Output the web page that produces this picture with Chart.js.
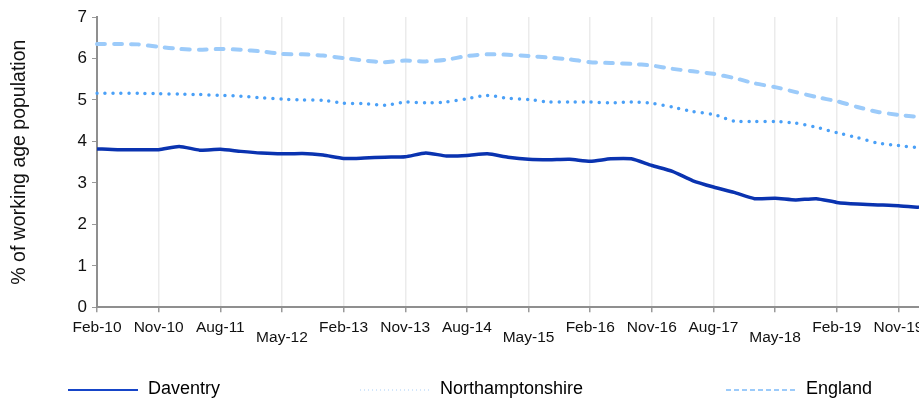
<!DOCTYPE html>
<html lang="en">
<head>
    <meta charset="UTF-8">
    <title>Working age population</title>
    <script src="https://cdn.jsdelivr.net/npm/chart.js"></script>
    <style>
        body {
            margin: 0;
            background: #fff;
            overflow: hidden;
        }

        .wrap {
            width: 919px;
            height: 402px;
        }
    </style>
</head>
<body>
    <div class="wrap">
        <canvas id="chart"></canvas>
    </div>

    <script>
        // quarterly figures, Feb-10 to Feb-20
        const quarters = [
            "Feb-10", "May-10", "Aug-10", "Nov-10",
            "Feb-11", "May-11", "Aug-11", "Nov-11",
            "Feb-12", "May-12", "Aug-12", "Nov-12",
            "Feb-13", "May-13", "Aug-13", "Nov-13",
            "Feb-14", "May-14", "Aug-14", "Nov-14",
            "Feb-15", "May-15", "Aug-15", "Nov-15",
            "Feb-16", "May-16", "Aug-16", "Nov-16",
            "Feb-17", "May-17", "Aug-17", "Nov-17",
            "Feb-18", "May-18", "Aug-18", "Nov-18",
            "Feb-19", "May-19", "Aug-19", "Nov-19",
            "Feb-20"
        ];

        const daventry = [
            3.82, 3.80, 3.80, 3.80, 3.88, 3.79, 3.81, 3.76, 3.72, 3.70,
            3.71, 3.67, 3.59, 3.60, 3.62, 3.63, 3.72, 3.65, 3.66, 3.70,
            3.62, 3.57, 3.56, 3.57, 3.52, 3.58, 3.58, 3.42, 3.28, 3.05,
            2.90, 2.77, 2.62, 2.63, 2.59, 2.62, 2.53, 2.49, 2.47, 2.45,
            2.41
        ];

        const northamptonshire = [
            5.16, 5.16, 5.16, 5.15, 5.14, 5.13, 5.11, 5.09, 5.05, 5.02,
            5.00, 4.99, 4.92, 4.91, 4.87, 4.95, 4.93, 4.95, 5.03, 5.11,
            5.04, 5.01, 4.95, 4.95, 4.95, 4.93, 4.95, 4.92, 4.83, 4.72,
            4.65, 4.49, 4.48, 4.48, 4.44, 4.34, 4.21, 4.09, 3.96, 3.90,
            3.85
        ];

        const england = [
            6.35, 6.35, 6.34, 6.28, 6.23, 6.21, 6.23, 6.21, 6.17, 6.11,
            6.10, 6.07, 6.01, 5.95, 5.91, 5.95, 5.93, 5.97, 6.06, 6.10,
            6.09, 6.06, 6.02, 5.98, 5.91, 5.89, 5.87, 5.83, 5.75, 5.69,
            5.63, 5.53, 5.40, 5.31, 5.19, 5.07, 4.97, 4.83, 4.71, 4.64,
            4.59
        ];

        const FONT = "'Liberation Sans', Arial, sans-serif";

        // legend drawn by hand so the three items can sit far apart like the original
        const spreadLegend = {
            id: "spreadLegend",
            afterDraw(chart, args, opts) {
                const ctx = chart.ctx;
                ctx.save();
                ctx.font = "18px " + FONT;
                ctx.textBaseline = "middle";
                opts.items.forEach(item => {
                    ctx.beginPath();
                    ctx.strokeStyle = item.color;
                    ctx.lineWidth = item.width;
                    ctx.setLineDash(item.dash);
                    ctx.moveTo(item.x, opts.y);
                    ctx.lineTo(item.x + 70, opts.y);
                    ctx.stroke();
                    ctx.setLineDash([]);
                    ctx.fillStyle = "#000";
                    ctx.fillText(item.text, item.x + 80, opts.y - 1);
                });
                ctx.restore();
            }
        };

        new Chart(document.getElementById("chart"), {
            type: "line",
            data: {
                labels: quarters,
                datasets: [
                    {
                        label: "Daventry",
                        data: daventry,
                        borderColor: "#0a33b0",
                        borderWidth: 3.5,
                        pointRadius: 0,
                        tension: 0.2
                    },
                    {
                        label: "Northamptonshire",
                        data: northamptonshire,
                        borderColor: "#4aa0f7",
                        borderWidth: 3.5,
                        borderDash: [0, 8],
                        borderCapStyle: "round",
                        pointRadius: 0,
                        tension: 0.2
                    },
                    {
                        label: "England",
                        data: england,
                        borderColor: "#9ccbfa",
                        borderWidth: 4,
                        borderDash: [8, 9],
                        borderCapStyle: "round",
                        pointRadius: 0,
                        tension: 0.2
                    }
                ]
            },
            options: {
                responsive: true,
                maintainAspectRatio: false,
                animation: false,
                layout: {
                    padding: { top: 17, right: 0, bottom: 49, left: 0 }
                },
                plugins: {
                    legend: { display: false },
                    tooltip: { enabled: false },
                    spreadLegend: {
                        y: 390,
                        items: [
                            { text: "Daventry", x: 68, color: "#1645c8", width: 2, dash: [] },
                            { text: "Northamptonshire", x: 360, color: "#c4defa", width: 1.5, dash: [1, 3] },
                            { text: "England", x: 726, color: "#9ccbfa", width: 2, dash: [5, 3] }
                        ]
                    }
                },
                scales: {
                    x: {
                        afterBuildTicks: axis => {
                            axis.ticks = axis.ticks.filter(t => t.value % 3 === 0);
                        },
                        afterFit: axis => {
                            axis.paddingLeft = 0;
                            axis.paddingRight = 0;
                        },
                        border: { color: "#8f8f8f", width: 2 },
                        grid: {
                            color: "#ebebeb",
                            lineWidth: 1.5,
                            tickColor: "#9a9a9a",
                            tickLength: 5
                        },
                        ticks: {
                            autoSkip: false,
                            maxRotation: 0,
                            padding: 10,
                            color: "#111",
                            font: { family: FONT, size: 15.5, lineHeight: 0.667 },
                            callback: function (value) {
                                const lab = this.getLabelForValue(value);
                                // May labels sit one row lower
                                return value % 12 === 9 ? ["", lab] : lab;
                            }
                        }
                    },
                    y: {
                        min: 0,
                        max: 7,
                        afterFit: axis => {
                            axis.width = 97;
                        },
                        border: { color: "#8f8f8f", width: 2 },
                        grid: {
                            drawOnChartArea: false,
                            tickColor: "#9a9a9a",
                            tickLength: 5
                        },
                        ticks: {
                            stepSize: 1,
                            padding: 5,
                            color: "#111",
                            font: { family: FONT, size: 17 }
                        },
                        title: {
                            display: true,
                            text: "% of working age population",
                            color: "#111",
                            padding: { top: 8, bottom: 0 },
                            font: { family: FONT, size: 19.5 }
                        }
                    }
                }
            },
            plugins: [spreadLegend]
        });
    </script>
</body>
</html>
